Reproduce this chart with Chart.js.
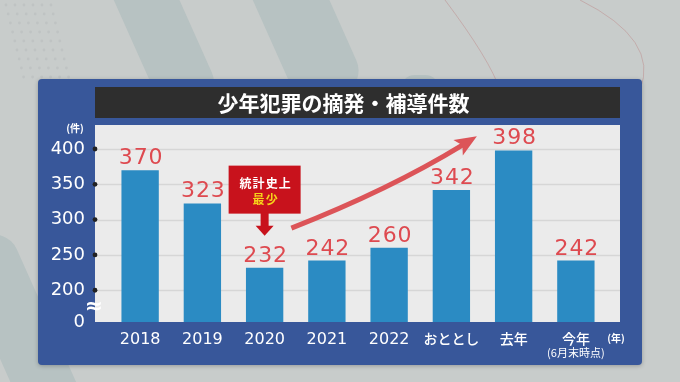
<!DOCTYPE html>
<html>
<head>
<meta charset="utf-8">
<script src="https://cdn.jsdelivr.net/npm/chart.js@4.4.1/dist/chart.umd.min.js"></script>
<style>
html,body{margin:0;padding:0;background:#c8cccb;overflow:hidden;}
canvas{display:block;}
</style>
</head>
<body>
<canvas id="c" width="680" height="382"></canvas>
<script>
// ---- data ----
const categories = ['2018','2019','2020','2021','2022','おととし','去年','今年'];
const counts = [370, 323, 232, 242, 260, 342, 398, 242];
const yTickValues = [200, 250, 300, 350, 400];
const yBreak = 155;      // axis is broken: bottom of the axis is labelled 0
const yTop = 434;
const titleText = '少年犯罪の摘発・補導件数';
const yUnit = '(件)';
const xUnit = '(年)';
const lastNote = '(6月末時点)';
const calloutLines = ['統計史上', '最少'];
const calloutIndex = 2;

const LATIN = '"DejaVu Sans", "Noto Sans CJK JP", sans-serif';
const JP = '"Noto Sans CJK JP", sans-serif';

const decor = {
  id: 'decor',
  beforeDraw(chart) {
    const ctx = chart.ctx, a = chart.chartArea;
    const W = chart.width, H = chart.height;
    ctx.save();
    // page background
    ctx.fillStyle = '#c8cccb';
    ctx.fillRect(0, 0, W, H);
    ctx.fillStyle = '#b7c2c2';
    const band = (x, y, w, h, ang, r) => {
      ctx.save(); ctx.translate(x, y); ctx.rotate(ang);
      ctx.beginPath(); ctx.roundRect(-w/2, -h/2, w, h, r); ctx.fill(); ctx.restore();
    };
    band(160, 30, 60, 170, -0.42, 25);
    band(300, 20, 70, 170, -0.42, 25);
    band(20, 330, 60, 200, -0.42, 25);
    band(420, 90, 40, 30, 0, 15);
    // dots top-left
    ctx.fillStyle = '#bfc3c3';
    for (let r = 0; r < 9; r++) for (let c = 0; c < 6; c++) {
      ctx.beginPath(); ctx.arc(6 + c*9 + r*2.2, 5 + r*9, 1.4, 0, 7); ctx.fill();
    }
    // thin reddish curve top-right
    ctx.strokeStyle = 'rgba(190,140,140,0.5)'; ctx.lineWidth = 1;
    ctx.beginPath(); ctx.moveTo(445, 0); ctx.quadraticCurveTo(490, 60, 500, 90); ctx.stroke();
    ctx.beginPath(); ctx.moveTo(580, 0); ctx.quadraticCurveTo(660, 40, 640, 90); ctx.stroke();

    // blue panel
    const pL = a.left - 71, pR = a.right + 35, pT = a.top - 46, pB = a.bottom + 43;
    ctx.shadowColor = 'rgba(0,0,0,0.25)'; ctx.shadowBlur = 4; ctx.shadowOffsetY = 1;
    ctx.fillStyle = '#38579a';
    ctx.beginPath(); ctx.roundRect(pL, pT, pR - pL, pB - pT, 4); ctx.fill();
    ctx.shadowColor = 'transparent';
    // title bar
    const gL = a.left - 14, gR = a.right + 13;
    ctx.fillStyle = '#2e2e2e';
    ctx.fillRect(gL, a.top - 38, gR - gL, 31);
    // plot background
    ctx.fillStyle = '#ebebeb';
    ctx.fillRect(gL, a.top, gR - gL, a.bottom - a.top);
    // grid lines
    const ys = chart.scales.y;
    ctx.strokeStyle = '#d6d6d6'; ctx.lineWidth = 1.5;
    yTickValues.forEach(v => {
      const y = Math.round(ys.getPixelForValue(v)) + 0.5;
      ctx.beginPath(); ctx.moveTo(gL, y); ctx.lineTo(gR, y); ctx.stroke();
    });
    // title
    ctx.fillStyle = '#ffffff';
    ctx.font = 'bold 21px ' + JP;
    ctx.textAlign = 'center'; ctx.textBaseline = 'middle';
    ctx.fillText(titleText, (gL + gR) / 2 - 14, a.top - 22);
    ctx.restore();
  },
  afterDatasetsDraw(chart) {
    const ctx = chart.ctx, a = chart.chartArea;
    const xs = chart.scales.x, ys = chart.scales.y;
    const gL = a.left - 14;
    const step = a.width / categories.length;
    const xAt = f => a.left + (f + 0.5) * step;
    ctx.save();
    // axis dots
    ctx.fillStyle = '#222';
    yTickValues.forEach(v => {
      ctx.beginPath(); ctx.arc(gL, ys.getPixelForValue(v), 2.4, 0, 7); ctx.fill();
    });
    // break mark
    ctx.fillStyle = '#ffffff';
    ctx.font = 'bold 22px ' + LATIN;
    ctx.textAlign = 'center'; ctx.textBaseline = 'middle';
    ctx.fillText('≈', gL - 1, ys.getPixelForValue(176));
    // value labels
    const meta = chart.getDatasetMeta(0);
    ctx.fillStyle = '#de4a50';
    ctx.font = '22px ' + LATIN;
    ctx.letterSpacing = '1px';
    ctx.textAlign = 'center'; ctx.textBaseline = 'alphabetic';
    meta.data.forEach((bar, i) => {
      ctx.fillText(String(counts[i]), bar.x + 1, bar.y - 6);
    });
    ctx.letterSpacing = '0px';
    // units
    ctx.fillStyle = '#ffffff';
    ctx.font = 'bold 10px ' + JP;
    ctx.textBaseline = 'middle';
    ctx.fillText(yUnit, a.left - 34, a.top + 3);
    ctx.fillText(xUnit, a.right + 9, a.bottom + 16);
    ctx.font = '11px ' + JP;
    ctx.fillText(lastNote, xs.getPixelForValue(categories.length - 1), a.bottom + 31);

    // callout box
    const cb = meta.data[calloutIndex];
    const tip = cb.y - 32;
    const bB = tip - 22, bT = bB - 48;
    ctx.fillStyle = '#c8121c';
    ctx.fillRect(cb.x - 36, bT, 72, 48);
    ctx.fillRect(cb.x - 4, bB - 1, 8, 14);
    ctx.beginPath();
    ctx.moveTo(cb.x - 9, bB + 12); ctx.lineTo(cb.x + 9, bB + 12); ctx.lineTo(cb.x, tip);
    ctx.closePath(); ctx.fill();
    ctx.font = 'bold 12px ' + JP;
    ctx.letterSpacing = '1px';
    ctx.fillStyle = '#ffffff';
    ctx.fillText(calloutLines[0], cb.x + 1, bT + 18);
    ctx.fillStyle = '#f7d21a';
    ctx.fillText(calloutLines[1], cb.x + 1, bT + 34);
    ctx.letterSpacing = '0px';

    // rising arrow
    const p0 = {x: xAt(2.43), y: ys.getPixelForValue(288)};
    const p1 = {x: xAt(4.0), y: ys.getPixelForValue(342)};
    const p2 = {x: xAt(5.41), y: ys.getPixelForValue(418)};
    const ang = Math.atan2(p2.y - p1.y, p2.x - p1.x);
    const headLen = 19, headW = 9;
    const base = {x: p2.x - headLen * Math.cos(ang), y: p2.y - headLen * Math.sin(ang)};
    ctx.strokeStyle = '#dc5458'; ctx.fillStyle = '#dc5458';
    ctx.lineWidth = 5; ctx.lineCap = 'butt';
    ctx.beginPath(); ctx.moveTo(p0.x, p0.y);
    ctx.quadraticCurveTo(p1.x, p1.y, base.x + 3*Math.cos(ang), base.y + 3*Math.sin(ang)); ctx.stroke();
    ctx.beginPath();
    ctx.moveTo(p2.x, p2.y);
    ctx.lineTo(base.x - headW * Math.sin(ang) - 3*Math.cos(ang), base.y + headW * Math.cos(ang) - 3*Math.sin(ang));
    ctx.lineTo(base.x + 2*Math.cos(ang), base.y + 2*Math.sin(ang));
    ctx.lineTo(base.x + headW * Math.sin(ang) - 3*Math.cos(ang), base.y - headW * Math.cos(ang) - 3*Math.sin(ang));
    ctx.closePath(); ctx.fill();
    ctx.restore();
  }
};

new Chart(document.getElementById('c'), {
  type: 'bar',
  data: {
    labels: categories,
    datasets: [{
      data: counts,
      backgroundColor: '#2b8bc3',
      barPercentage: 0.6,
      categoryPercentage: 1.0,
      borderWidth: 0
    }]
  },
  options: {
    responsive: false,
    animation: false,
    events: [],
    layout: { padding: { left: 0, right: 73, top: 125, bottom: 0 } },
    plugins: { legend: { display: false }, tooltip: { enabled: false }, title: { display: false } },
    scales: {
      x: {
        grid: { display: false, drawTicks: false },
        border: { display: false },
        afterFit: s => { s.height = 60; },
        ticks: {
          color: '#ffffff',
          padding: 8,
          maxRotation: 0,
          autoSkip: false,
          font: ctx => ctx.index < 5
            ? { family: LATIN, size: 16 }
            : { family: JP, size: 14, weight: '500' }
        }
      },
      y: {
        min: yBreak, max: yTop,
        grid: { display: false, drawTicks: false },
        border: { display: false },
        afterFit: s => { s.width = 109; },
        afterBuildTicks: s => { s.ticks = [yBreak, ...yTickValues].map(v => ({ value: v })); },
        ticks: {
          color: '#ffffff',
          padding: 24,
          font: { family: LATIN, size: 18 },
          callback: v => (v === yBreak ? '0' : String(v))
        }
      }
    }
  },
  plugins: [decor]
});
</script>
</body>
</html>
